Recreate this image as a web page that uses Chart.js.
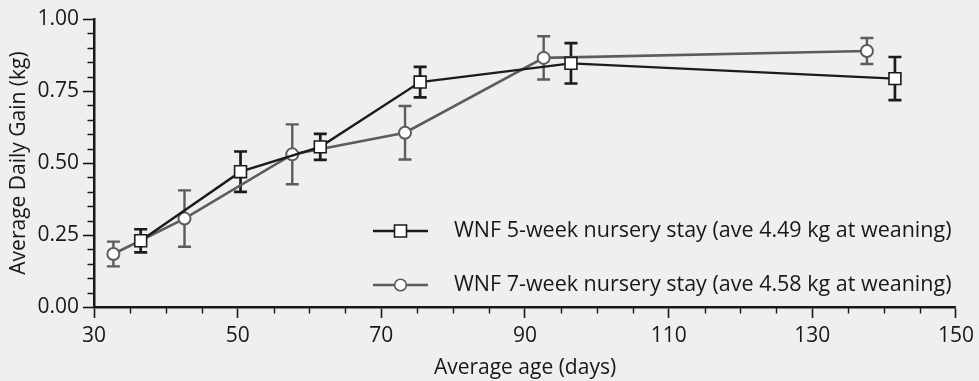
<!DOCTYPE html>
<html><head><meta charset="utf-8">
<script src="https://cdn.jsdelivr.net/npm/chart.js@4/dist/chart.umd.min.js"></script>
<style>html,body{margin:0;padding:0;background:#efefef;overflow:hidden}</style>
</head><body>
<canvas id="c" width="979" height="381"></canvas>
<script>
// ---- data ----
const age5 = [36.5, 50.4, 61.5, 75.4, 96.4, 141.5];
const adg5 = [0.230, 0.470, 0.556, 0.781, 0.846, 0.793];
const err5 = [0.040, 0.070, 0.045, 0.053, 0.070, 0.075];
const age7 = [32.7, 42.6, 57.6, 73.3, 92.6, 137.6];
const adg7 = [0.184, 0.307, 0.530, 0.605, 0.865, 0.889];
const err7 = [0.043, 0.098, 0.104, 0.093, 0.075, 0.045];
const label5 = 'WNF 5-week nursery stay (ave 4.49 kg at weaning)';
const label7 = 'WNF 7-week nursery stay (ave 4.58 kg at weaning)';
const xTicks = [30, 50, 70, 90, 110, 130, 150];
const yTicks = [0, 0.25, 0.5, 0.75, 1.0];
const xTitle = 'Average age (days)';
const yTitle = 'Average Daily Gain (kg)';

const BLACK = '#1c1a1b', GRAY = '#5c5c5c', TXT = '#1a1718', BG = '#efefef';
const FONT = "'Open Sans', sans-serif";

const toPts = (xs, ys) => xs.map((x, i) => ({x, y: ys[i]}));

const bgPlugin = {
  id: 'bg',
  beforeDraw(chart) {
    const c = chart.ctx; c.save(); c.fillStyle = BG; c.fillRect(0, 0, chart.width, chart.height); c.restore();
  }
};

const errPlugin = {
  id: 'errbars',
  beforeDatasetsDraw(chart) {
    const c = chart.ctx, ys = chart.scales.y, xs = chart.scales.x;
    for (let d = chart.data.datasets.length - 1; d >= 0; d--) {
      const ds = chart.data.datasets[d];
      c.save();
      c.strokeStyle = ds.borderColor; c.lineWidth = ds.errWidth;
      ds.data.forEach((p, i) => {
        const e = ds.errors[i];
        const px = xs.getPixelForValue(p.x);
        const top = ys.getPixelForValue(p.y + e), bot = ys.getPixelForValue(p.y - e);
        c.beginPath();
        c.moveTo(px, top); c.lineTo(px, bot);
        c.moveTo(px - 6.5, top); c.lineTo(px + 6.5, top);
        c.moveTo(px - 6.5, bot); c.lineTo(px + 6.5, bot);
        c.stroke();
      });
      c.restore();
    }
  }
};

const minorPlugin = {
  id: 'minor',
  afterDraw(chart) {
    const c = chart.ctx, xs = chart.scales.x, ys = chart.scales.y, a = chart.chartArea;
    c.save(); c.strokeStyle = TXT; c.lineWidth = 1.4;
    c.beginPath();
    for (let v = 0.05; v < 1.0; v += 0.05) {
      if (Math.abs(v / 0.25 - Math.round(v / 0.25)) < 1e-6) continue;
      const py = Math.round(ys.getPixelForValue(v)) + 0.5;
      c.moveTo(a.left - 6.5, py); c.lineTo(a.left, py);
    }
    for (let v = 35; v < 150; v += 5) {
      if ((v - 30) % 20 === 0) continue;
      const px = Math.round(xs.getPixelForValue(v)) + 0.5;
      c.moveTo(px, a.bottom); c.lineTo(px, a.bottom + 6.5);
    }
    c.stroke();
    c.restore();
  }
};

const legendPlugin = {
  id: 'insideLegend',
  afterDraw(chart) {
    const c = chart.ctx, a = chart.chartArea;
    const rows = [
      {ds: chart.data.datasets[0], y: a.bottom - 76},
      {ds: chart.data.datasets[1], y: a.bottom - 22}
    ];
    const x0 = a.left + 279, x1 = a.left + 334, xm = (x0 + x1) / 2, tx = a.left + 360;
    c.save();
    rows.forEach(r => {
      c.strokeStyle = r.ds.borderColor; c.lineWidth = 2.4;
      c.beginPath(); c.moveTo(x0, r.y); c.lineTo(x1, r.y); c.stroke();
      c.fillStyle = '#ffffff'; c.lineWidth = 1.6;
      c.beginPath();
      if (r.ds.pointStyle === 'rect') c.rect(xm - 6, r.y - 6, 12, 12);
      else c.arc(xm, r.y, 5.8, 0, Math.PI * 2);
      c.fill(); c.stroke();
      c.fillStyle = TXT; c.font = "21.5px " + FONT; c.textBaseline = 'middle'; c.textAlign = 'left';
      c.fillText(r.ds.label, tx, r.y);
    });
    c.restore();
  }
};

new Chart(document.getElementById('c'), {
  type: 'line',
  data: {
    datasets: [
      {label: label5, data: toPts(age5, adg5), errors: err5, errWidth: 2.7,
       borderColor: BLACK, borderWidth: 2.4, pointStyle: 'rect', pointRadius: 8.4,
       pointBackgroundColor: '#ffffff', pointBorderColor: BLACK, pointBorderWidth: 1.6, tension: 0},
      {label: label7, data: toPts(age7, adg7), errors: err7, errWidth: 2.4,
       borderColor: GRAY, borderWidth: 2.6, pointStyle: 'circle', pointRadius: 6,
       pointBackgroundColor: '#ffffff', pointBorderColor: GRAY, pointBorderWidth: 2, tension: 0}
    ]
  },
  options: {
    responsive: false, animation: false,
    layout: {padding: {left: 0, right: 21, top: 19, bottom: 0}},
    plugins: {legend: {display: false}, tooltip: {enabled: false}},
    scales: {
      x: {
        type: 'linear', min: 30, max: 150,
        afterBuildTicks: s => { s.ticks = xTicks.map(v => ({value: v})); },
        afterFit: s => { s.height = 74; },
        grid: {display: true, drawOnChartArea: false, drawTicks: true, tickLength: 11, tickColor: TXT, tickWidth: 1.6},
        border: {display: true, color: TXT, width: 2.5},
        ticks: {color: TXT, font: {family: FONT, size: 21}, padding: 5, maxRotation: 0},
        title: {display: true, text: xTitle, color: TXT, font: {family: FONT, size: 21}, padding: {top: 0, bottom: 0}}
      },
      y: {
        type: 'linear', min: 0, max: 1,
        afterBuildTicks: s => { s.ticks = yTicks.map(v => ({value: v})); },
        afterFit: s => { s.width = 94; },
        grid: {display: true, drawOnChartArea: false, drawTicks: true, tickLength: 11, tickColor: TXT, tickWidth: 1.6},
        border: {display: true, color: TXT, width: 2.5},
        ticks: {color: TXT, font: {family: FONT, size: 21}, padding: 4, callback: v => Number(v).toFixed(2)},
        title: {display: true, text: yTitle, color: TXT, font: {family: FONT, size: 21}, padding: {top: 6, bottom: 0}}
      }
    }
  },
  plugins: [bgPlugin, errPlugin, minorPlugin, legendPlugin]
});
</script>
</body></html>
